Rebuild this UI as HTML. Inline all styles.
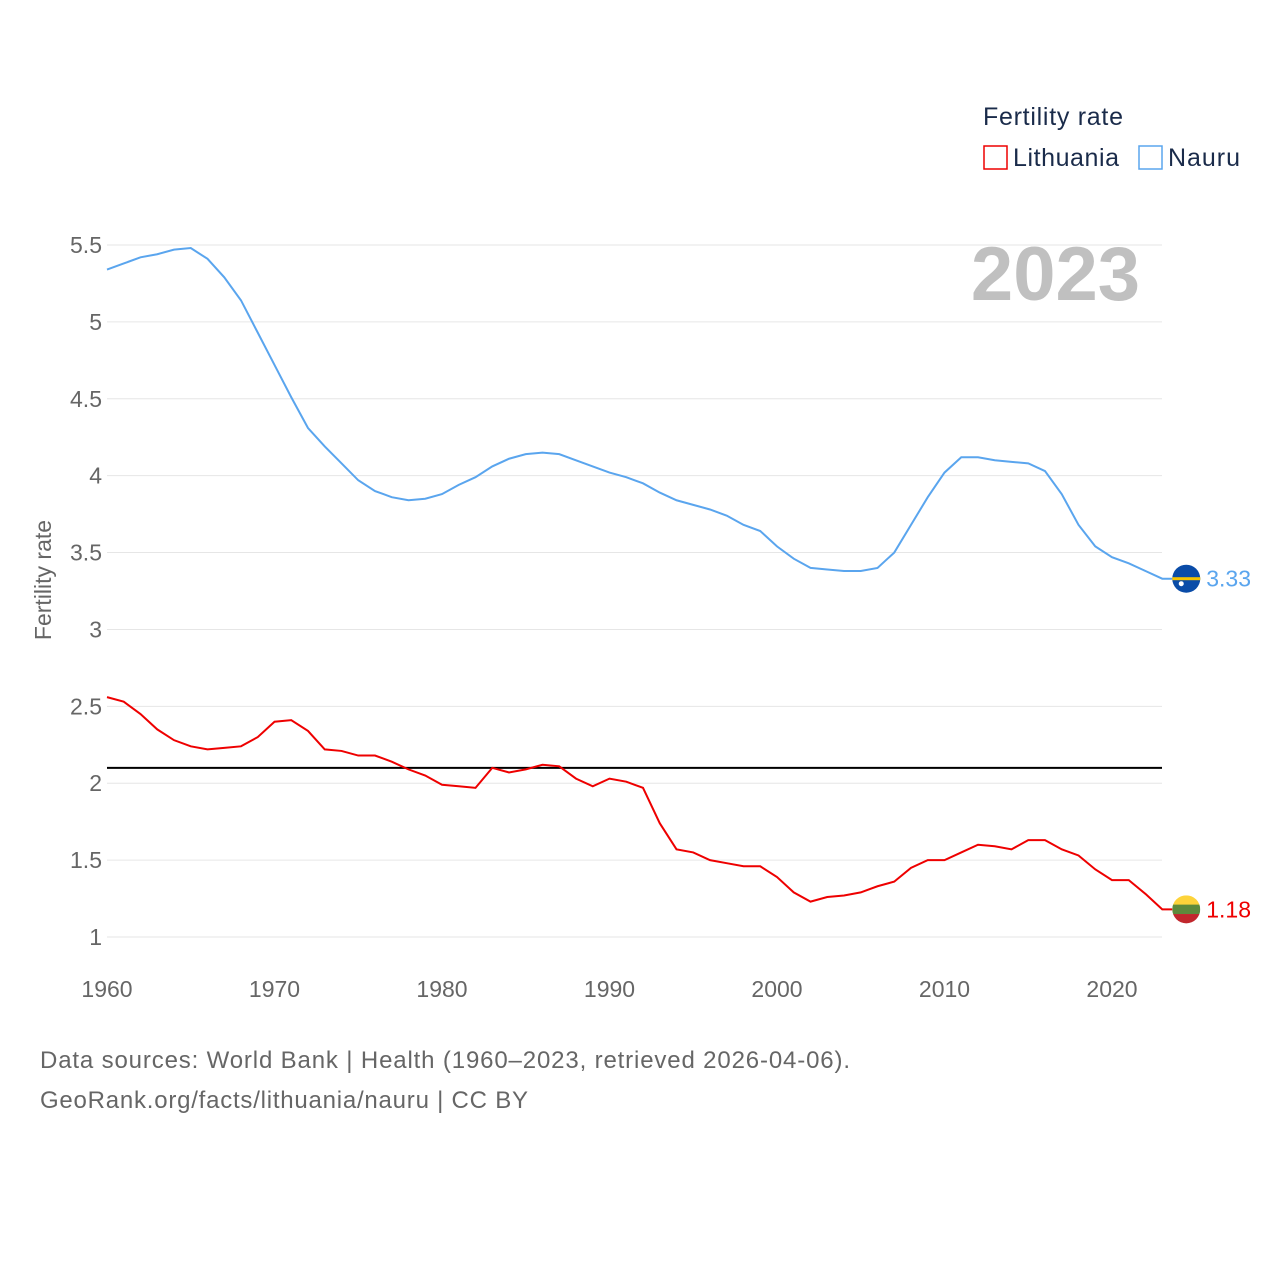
<!DOCTYPE html>
<html><head><meta charset="utf-8"><style>
body{margin:0;background:#fff;font-family:"Liberation Sans",sans-serif}
svg text{font-family:"Liberation Sans",sans-serif}
</style></head><body>
<svg id="c" width="1280" height="1280" viewBox="0 0 1280 1280">
<rect width="1280" height="1280" fill="#fff"/>
<text x="983" y="125" font-size="25" fill="#1a2b4a" textLength="140">Fertility rate</text>
<g><rect x="984" y="146" width="23" height="23" fill="none" stroke="#ee0000" stroke-width="1.5"/><text x="1013" y="166" font-size="25" fill="#1a2b4a" textLength="106">Lithuania</text></g>
<g><rect x="1139" y="146" width="23" height="23" fill="none" stroke="#5aa5ee" stroke-width="1.5"/><text x="1168" y="166" font-size="25" fill="#1a2b4a" textLength="72">Nauru</text></g>
<text x="1140" y="300" font-size="76" font-weight="bold" fill="#c0c0c0" text-anchor="end">2023</text>
<text transform="translate(51,580) rotate(-90)" font-size="23" fill="#666" text-anchor="middle">Fertility rate</text>
<g id="grid"></g><g id="lines"></g>
<text x="40" y="1068" font-size="24" fill="#666" textLength="810">Data sources: World Bank | Health (1960–2023, retrieved 2026-04-06).</text>
<text x="40" y="1108" font-size="24" fill="#666" textLength="488">GeoRank.org/facts/lithuania/nauru | CC BY</text>
</svg>
<script>
const years=[];for(let y=1960;y<=2023;y++)years.push(y);
const nauru=[5.34,5.38,5.42,5.44,5.47,5.48,5.41,5.29,5.14,4.93,4.72,4.51,4.31,4.19,4.08,3.97,3.90,3.86,3.84,3.85,3.88,3.94,3.99,4.06,4.11,4.14,4.15,4.14,4.10,4.06,4.02,3.99,3.95,3.89,3.84,3.81,3.78,3.74,3.68,3.64,3.54,3.46,3.40,3.39,3.38,3.38,3.40,3.50,3.68,3.86,4.02,4.12,4.12,4.10,4.09,4.08,4.03,3.88,3.68,3.54,3.47,3.43,3.38,3.33];
const lithuania=[2.56,2.53,2.45,2.35,2.28,2.24,2.22,2.23,2.24,2.30,2.40,2.41,2.34,2.22,2.21,2.18,2.18,2.14,2.09,2.05,1.99,1.98,1.97,2.10,2.07,2.09,2.12,2.11,2.03,1.98,2.03,2.01,1.97,1.74,1.57,1.55,1.50,1.48,1.46,1.46,1.39,1.29,1.23,1.26,1.27,1.29,1.33,1.36,1.45,1.50,1.50,1.55,1.60,1.59,1.57,1.63,1.63,1.57,1.53,1.44,1.37,1.37,1.28,1.18];
const yTicks=[1,1.5,2,2.5,3,3.5,4,4.5,5,5.5];
const xTicks=[1960,1970,1980,1990,2000,2010,2020];
const replacement=2.1;
const NS='http://www.w3.org/2000/svg';
const X=y=>107+(y-1960)*16.75, Y=v=>937-(v-1)*153.78;
function mk(t,a,p){const e=document.createElementNS(NS,t);for(const k in a)e.setAttribute(k,a[k]);p.appendChild(e);return e;}
const g=document.getElementById('grid'),L=document.getElementById('lines');
yTicks.forEach(v=>{
 const l=mk('line',{x1:107,x2:1162,y1:Y(v),y2:Y(v),stroke:'#e6e6e6','stroke-width':1},g);
 
 const t=mk('text',{x:102,y:Y(v)+8,'font-size':23,fill:'#666','text-anchor':'end'},g);t.textContent=String(v);
 
});
xTicks.forEach(v=>{
 const t=mk('text',{x:X(v),y:997,'font-size':23,fill:'#666','text-anchor':'middle'},g);t.textContent=String(v);
 
});
const rl=mk('line',{x1:107,x2:1162,y1:Y(replacement),y2:Y(replacement),stroke:'#000','stroke-width':2},L);

function series(d,c,name){
 const last=d[d.length-1],cx=X(years[years.length-1])+24,cy=Y(last);
 const pts=d.map((v,i)=>X(years[i])+','+Y(v));pts.push((cx-14)+','+cy);
 const p=mk('polyline',{points:pts.join(' '),fill:'none',stroke:c,'stroke-width':2},L);
 
 const gg=mk('g',{},L);
 if(name==='nauru'){mk('circle',{cx,cy,r:14,fill:'#0a4ca8'},gg);mk('rect',{x:cx-14,y:cy-1.5,width:28,height:3,fill:'#f5c400'},gg);mk('circle',{cx:cx-5,cy:cy+5,r:2.5,fill:'#fff'},gg);}
 else{const cp=mk('clipPath',{id:'lt'},gg);mk('circle',{cx,cy,r:14},cp);
  mk('rect',{x:cx-14,y:cy-14,width:28,height:10,fill:'#fdd33a','clip-path':'url(#lt)'},gg);
  mk('rect',{x:cx-14,y:cy-4.7,width:28,height:9.4,fill:'#5d8a3c','clip-path':'url(#lt)'},gg);
  mk('rect',{x:cx-14,y:cy+4.7,width:28,height:10,fill:'#c1272d','clip-path':'url(#lt)'},gg);}
 const t=mk('text',{x:cx+20,y:cy+8,'font-size':23,fill:c},L);t.textContent=last.toFixed(2);
 
}
series(nauru,'#5aa5ee','nauru');
series(lithuania,'#ee0000','lithuania');
</script>
</body></html>
